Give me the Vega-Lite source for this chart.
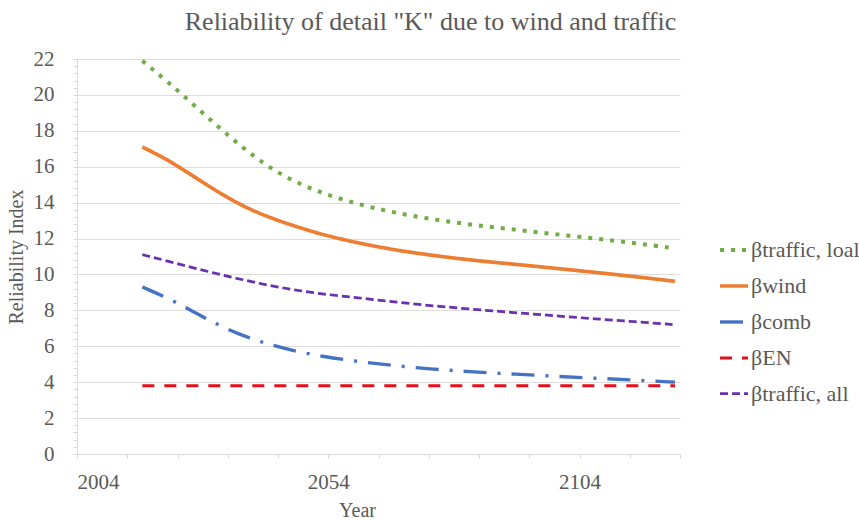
{
  "$schema": "https://vega.github.io/schema/vega-lite/v6.json",
  "autosize": "none",
  "width": 603,
  "height": 395,
  "padding": {"left": 77, "top": 59, "right": 179, "bottom": 66},
  "background": "white",
  "title": {
    "text": "Reliability of detail \"K\" due to wind and traffic",
    "font": "Liberation Serif",
    "fontSize": 26,
    "fontWeight": "normal",
    "color": "#595959",
    "anchor": "middle",
    "dx": 52,
    "offset": 13
  },
  "config": {
    "view": {"stroke": null},
    "font": "Liberation Serif"
  },
  "data": {
    "values": [
      {"series": "βtraffic, loal", "year": 2017, "beta": 21.9},
      {"series": "βtraffic, loal", "year": 2022, "beta": 20.75},
      {"series": "βtraffic, loal", "year": 2027, "beta": 19.5},
      {"series": "βtraffic, loal", "year": 2032, "beta": 18.25},
      {"series": "βtraffic, loal", "year": 2037, "beta": 17.05},
      {"series": "βtraffic, loal", "year": 2042, "beta": 16.0},
      {"series": "βtraffic, loal", "year": 2047, "beta": 15.2},
      {"series": "βtraffic, loal", "year": 2053, "beta": 14.5},
      {"series": "βtraffic, loal", "year": 2060, "beta": 13.9},
      {"series": "βtraffic, loal", "year": 2067, "beta": 13.45},
      {"series": "βtraffic, loal", "year": 2075, "beta": 13.05},
      {"series": "βtraffic, loal", "year": 2083, "beta": 12.75},
      {"series": "βtraffic, loal", "year": 2091, "beta": 12.5},
      {"series": "βtraffic, loal", "year": 2099, "beta": 12.25},
      {"series": "βtraffic, loal", "year": 2107, "beta": 12.0},
      {"series": "βtraffic, loal", "year": 2115, "beta": 11.75},
      {"series": "βtraffic, loal", "year": 2123, "beta": 11.45},
      {"series": "βwind", "year": 2017, "beta": 17.1},
      {"series": "βwind", "year": 2022, "beta": 16.4},
      {"series": "βwind", "year": 2027, "beta": 15.5},
      {"series": "βwind", "year": 2032, "beta": 14.6},
      {"series": "βwind", "year": 2037, "beta": 13.8},
      {"series": "βwind", "year": 2042, "beta": 13.2},
      {"series": "βwind", "year": 2047, "beta": 12.72},
      {"series": "βwind", "year": 2053, "beta": 12.2},
      {"series": "βwind", "year": 2060, "beta": 11.75},
      {"series": "βwind", "year": 2067, "beta": 11.37},
      {"series": "βwind", "year": 2075, "beta": 11.05},
      {"series": "βwind", "year": 2083, "beta": 10.78},
      {"series": "βwind", "year": 2091, "beta": 10.57},
      {"series": "βwind", "year": 2099, "beta": 10.35},
      {"series": "βwind", "year": 2107, "beta": 10.12},
      {"series": "βwind", "year": 2115, "beta": 9.88},
      {"series": "βwind", "year": 2123, "beta": 9.62},
      {"series": "βcomb", "year": 2017, "beta": 9.3},
      {"series": "βcomb", "year": 2022, "beta": 8.7},
      {"series": "βcomb", "year": 2027, "beta": 7.95},
      {"series": "βcomb", "year": 2032, "beta": 7.2},
      {"series": "βcomb", "year": 2037, "beta": 6.58},
      {"series": "βcomb", "year": 2042, "beta": 6.12},
      {"series": "βcomb", "year": 2047, "beta": 5.75},
      {"series": "βcomb", "year": 2053, "beta": 5.42},
      {"series": "βcomb", "year": 2060, "beta": 5.15},
      {"series": "βcomb", "year": 2067, "beta": 4.92},
      {"series": "βcomb", "year": 2075, "beta": 4.72},
      {"series": "βcomb", "year": 2083, "beta": 4.57},
      {"series": "βcomb", "year": 2091, "beta": 4.45},
      {"series": "βcomb", "year": 2099, "beta": 4.33},
      {"series": "βcomb", "year": 2107, "beta": 4.22},
      {"series": "βcomb", "year": 2115, "beta": 4.12},
      {"series": "βcomb", "year": 2123, "beta": 4.0},
      {"series": "βEN", "year": 2017, "beta": 3.8},
      {"series": "βEN", "year": 2123, "beta": 3.8},
      {"series": "βtraffic, all", "year": 2017, "beta": 11.1},
      {"series": "βtraffic, all", "year": 2022, "beta": 10.75},
      {"series": "βtraffic, all", "year": 2027, "beta": 10.38},
      {"series": "βtraffic, all", "year": 2032, "beta": 10.03},
      {"series": "βtraffic, all", "year": 2037, "beta": 9.7},
      {"series": "βtraffic, all", "year": 2042, "beta": 9.4},
      {"series": "βtraffic, all", "year": 2047, "beta": 9.15},
      {"series": "βtraffic, all", "year": 2053, "beta": 8.9},
      {"series": "βtraffic, all", "year": 2060, "beta": 8.7},
      {"series": "βtraffic, all", "year": 2067, "beta": 8.47},
      {"series": "βtraffic, all", "year": 2075, "beta": 8.25},
      {"series": "βtraffic, all", "year": 2083, "beta": 8.05},
      {"series": "βtraffic, all", "year": 2091, "beta": 7.88},
      {"series": "βtraffic, all", "year": 2099, "beta": 7.7},
      {"series": "βtraffic, all", "year": 2107, "beta": 7.53},
      {"series": "βtraffic, all", "year": 2115, "beta": 7.37},
      {"series": "βtraffic, all", "year": 2123, "beta": 7.2}
    ]
  },
  "mark": {"type": "line", "interpolate": "basis", "strokeCap": "butt"},
  "encoding": {
    "x": {
      "field": "year",
      "type": "quantitative",
      "scale": {"domain": [2004, 2124], "nice": false, "zero": false},
      "axis": {
        "values": [2004, 2014, 2024, 2034, 2044, 2054, 2064, 2074, 2084, 2094, 2104, 2114, 2124],
        "labelExpr": "(datum.value - 2004) % 50 === 0 ? datum.value : ''",
        "format": "d",
        "grid": false,
        "domainColor": "#d9d9d9",
        "tickColor": "#d9d9d9",
        "tickSize": 4,
        "labelFont": "Liberation Serif",
        "labelFontSize": 21,
        "labelColor": "#595959",
        "labelPadding": 13,
        "labelOverlap": false,
        "title": "Year",
        "titleFont": "Liberation Serif",
        "titleFontSize": 20,
        "titleFontWeight": "normal",
        "titleColor": "#595959",
        "titleX": 280,
        "titlePadding": 8
      }
    },
    "y": {
      "field": "beta",
      "type": "quantitative",
      "scale": {"domain": [0, 22], "nice": false},
      "axis": {
        "values": [0, 0.4, 0.8, 1.2, 1.6, 2, 2.4, 2.8, 3.2, 3.6, 4, 4.4, 4.8, 5.2, 5.6, 6, 6.4, 6.8, 7.2, 7.6, 8, 8.4, 8.8, 9.2, 9.6, 10, 10.4, 10.8, 11.2, 11.6, 12, 12.4, 12.8, 13.2, 13.6, 14, 14.4, 14.8, 15.2, 15.6, 16, 16.4, 16.8, 17.2, 17.6, 18, 18.4, 18.8, 19.2, 19.6, 20, 20.4, 20.8, 21.2, 21.6, 22],
        "labelExpr": "abs(datum.value/2 - round(datum.value/2)) < 0.01 ? format(datum.value, 'd') : ''",
        "gridColor": "#dcdcdc",
        "gridOpacity": {"condition": {"test": "abs(datum.value/2 - round(datum.value/2)) < 0.01", "value": 1}, "value": 0},
        "domainColor": "#d9d9d9",
        "tickColor": "#d9d9d9",
        "tickSize": 4,
        "labelFont": "Liberation Serif",
        "labelFontSize": 21,
        "labelColor": "#595959",
        "labelPadding": 19,
        "labelOverlap": false,
        "title": "Reliability Index",
        "titleFont": "Liberation Serif",
        "titleFontSize": 20,
        "titleFontWeight": "normal",
        "titleColor": "#595959",
        "titlePadding": 7
      }
    },
    "color": {
      "field": "series",
      "type": "nominal",
      "scale": {
        "domain": ["βtraffic, loal", "βwind", "βcomb", "βEN", "βtraffic, all"],
        "range": ["#70ad47", "#ed7d31", "#4472c4", "#e3101a", "#6a30b0"]
      },
      "legend": {
        "title": null,
        "orient": "none",
        "legendX": 641,
        "legendY": 175,
        "symbolType": "stroke",
        "symbolSize": 784,
        "symbolStrokeWidth": 3,
        "labelFont": "Liberation Serif",
        "labelFontSize": 22,
        "labelColor": "#595959",
        "labelOffset": 1,
        "rowPadding": 9,
        "labelLimit": 200
      }
    },
    "strokeDash": {
      "field": "series",
      "type": "nominal",
      "scale": {
        "domain": ["βtraffic, loal", "βwind", "βcomb", "βEN", "βtraffic, all"],
        "range": [[4, 7], [1, 0], [23, 11, 3, 11], [12, 10], [8, 4]]
      }
    },
    "strokeWidth": {
      "field": "series",
      "type": "nominal",
      "scale": {
        "domain": ["βtraffic, loal", "βwind", "βcomb", "βEN", "βtraffic, all"],
        "range": [4, 2.75, 2.75, 3.5, 3.25]
      },
      "legend": null
    }
  }
}
